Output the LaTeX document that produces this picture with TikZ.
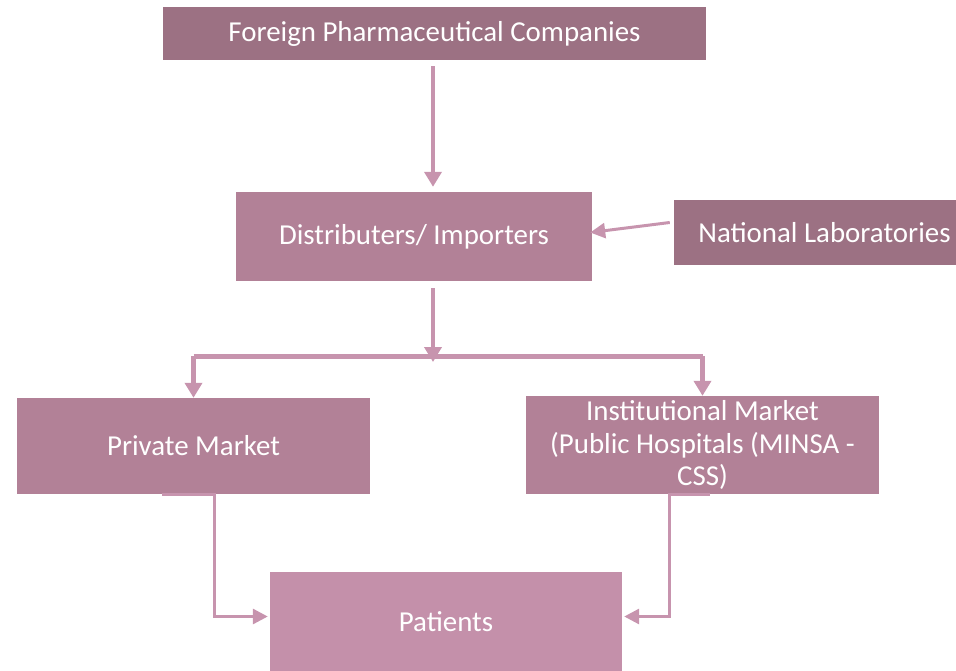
\documentclass[tikz,border=0pt]{standalone}
\usepackage{fontspec}
\setmainfont{Carlito}
\usetikzlibrary{arrows.meta,calc}
\definecolor{darkbox}{HTML}{9C7183}
\definecolor{midbox}{HTML}{B28197}
\definecolor{lightbox}{HTML}{C490AA}
\definecolor{arrowc}{HTML}{C794AE}
\begin{document}
\begin{tikzpicture}[x=1bp,y=-1bp,
  box/.style={fill=#1, text=white, inner sep=0pt, align=center,
    font=\fontsize{29}{33}\selectfont},
  conn/.style={draw=arrowc, line width=4.5bp, -{Triangle[length=15bp,width=17bp]}},
  thinconn/.style={draw=arrowc, line width=3bp, -{Triangle[length=15bp,width=15bp]}},
  bar/.style={draw=arrowc, line width=5bp}]
\useasboundingbox (0,0) rectangle (956,671);
\node[box=darkbox, minimum width=543bp, minimum height=53bp] (fpc) at (434.5,33.5) {Foreign Pharmaceutical Companies};
\node[box=midbox, minimum width=356bp, minimum height=89bp] (dist) at (414,236.5) {Distributers/ Importers};
\node[box=darkbox, minimum width=301bp, minimum height=65bp] (nat) at (824.5,232.5) {National Laboratories};
\node[box=midbox, minimum width=353bp, minimum height=96bp] (priv) at (193.5,446) {Private Market};
\node[box=midbox, minimum width=353bp, minimum height=98bp] (inst) at (702.5,445) {Institutional Market\\(Public Hospitals (MINSA -\\CSS)};
\node[box=lightbox, minimum width=352bp, minimum height=99bp] (pat) at (446,621.5) {Patients};
\coordinate (j) at (433,356);
% Foreign -> Distributors
\draw[conn, shorten >=5bp] ($(fpc.south)+(-1.5,6)$) -- ($(fpc.south |- dist.north)+(-1.5,0)$);
% National -> Distributors
\draw[thinconn] ($(nat.west)+(-4,-10)$) -- ($(dist.east)+(-2,-4)$);
% Distributors -> split
\draw[bar] (priv.north |- j) -- (inst.north |- j);
\draw[conn] ($(dist.south -| j)+(0,7)$) -- ($(j)+(0,6)$);
\draw[conn] (priv.north |- j) -- (priv.north);
\draw[conn] (inst.north |- j) -- (inst.north);
% Markets -> Patients
\draw[thinconn] ($(priv.south west)+(145,0)$) -- ($(priv.south west)+(198,0)$) |- ($(pat.west)+(-2,-5)$);
\draw[thinconn] ($(inst.south west)+(184,0)$) -- ($(inst.south west)+(144,0)$) |- ($(pat.east)+(2,-5)$);
\end{tikzpicture}
\end{document}
